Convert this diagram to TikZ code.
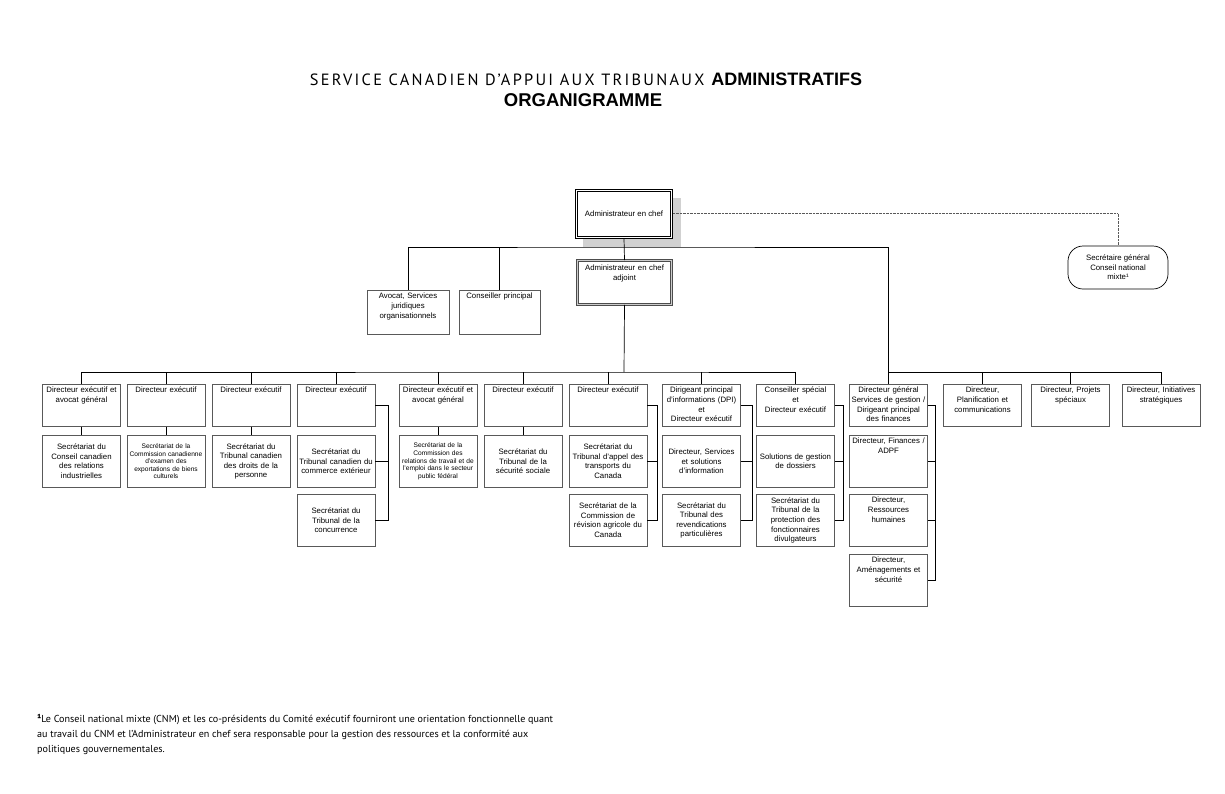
\documentclass[tikz,border=0pt]{standalone}
\usepackage{fontspec}
\setmainfont{Liberation Sans}
\newfontfamily\titlefont[LetterSpace=14]{PT Sans}
\newfontfamily\notefont{PT Sans}
\usetikzlibrary{calc,backgrounds}
\definecolor{boxgray}{gray}{0.35}
\definecolor{shadowgray}{gray}{0.82}
\begin{document}
\begin{tikzpicture}[x=1pt,y=-1pt,
    every node/.style={font=\fontsize{7.8}{9.6}\selectfont,align=center},
    cell/.style={draw=boxgray,line width=0.7pt,text width=77pt,inner xsep=0.5pt,inner ysep=2.5pt,anchor=north},
    headbox/.style={cell,text height=6pt,text depth=31pt},
    subbox/.style={cell,minimum height=52pt},
    tallbox/.style={headbox,text depth=41pt},
    small/.style={font=\fontsize{6.6}{7.6}\selectfont},
    link/.style={line width=0.7pt}]
  \useasboundingbox (0,0) rectangle (1225,793);
  % titre
  \node[anchor=base,font=\fontsize{18}{20}\selectfont] (titre) at (586,85)
    {{\titlefont\fontsize{16.3}{20}\selectfont SERVICE CANADIEN D’APPUI AUX TRIBUNAUX}\hspace{2pt} \textbf{ADMINISTRATIFS}};
  \node[anchor=base,font=\fontsize{18.5}{20}\selectfont] (soustitre) at (583,106) {\textbf{ORGANIGRAMME}};
  % direction
  \node[draw,fill=white,line width=0.7pt,minimum width=97pt,minimum height=49pt] (chef) at (624,213.5) {Administrateur en chef};
  \draw[line width=0.6pt] ($(chef.south west)+(2.2,-2.2)$) rectangle ($(chef.north east)+(-2.2,2.2)$);
  \begin{scope}[on background layer]
    \fill[shadowgray] ($(chef.south west)+(8,9)$) rectangle ($(chef.north east)+(8,9)$);
  \end{scope}
  \node[headbox,text width=93pt,text depth=30pt,inner ysep=4pt,draw=gray!60!black,double=gray!40,
    double distance=1.4pt,line width=0.8pt] (adjoint) at (624.5,260) {Administrateur en chef\\adjoint};
  \node[headbox,text width=81pt,text depth=33pt] (avocat) at (408,290) {Avocat, Services\\juridiques\\organisationnels};
  \node[headbox,text width=80pt,text depth=33pt] (conseiller) at (499.5,290) {Conseiller principal};
  \node[draw,line width=0.7pt,rounded corners=15pt,minimum width=100pt,minimum height=43pt] (sg) at (1118,267.5)
    {Secrétaire général\\Conseil national\\mixte¹};
  % directeurs
  \node[headbox] (d1) at (81.5,384) {Directeur exécutif et\\avocat général};
  \node[headbox] (d2) at (166,384) {Directeur exécutif};
  \node[headbox] (d3) at (251,384) {Directeur exécutif};
  \node[headbox] (d4) at (336,384) {Directeur exécutif};
  \node[headbox] (d5) at (438,384) {Directeur exécutif et\\avocat général};
  \node[headbox] (d6) at (523,384) {Directeur exécutif};
  \node[headbox] (d7) at (608,384) {Directeur exécutif};
  \node[headbox] (d8) at (701.5,384) {Dirigeant principal\\d’informations (DPI)\\et\\Directeur exécutif};
  \node[headbox] (d9) at (795.5,384) {Conseiller spécial\\et\\Directeur exécutif};
  \node[headbox] (dg) at (888.5,384) {Directeur général\\Services de gestion /\\Dirigeant principal\\des finances};
  \node[headbox] (d11) at (982.5,384) {Directeur,\\Planification et\\communications};
  \node[headbox] (d12) at (1070.5,384) {Directeur, Projets\\spéciaux};
  \node[headbox] (d13) at (1161,384) {Directeur, Initiatives\\stratégiques};
  % secretariats
  \node[subbox] (s1) at (81.5,435) {Secrétariat du\\Conseil canadien\\des relations\\industrielles};
  \node[subbox,small] (s2) at (166,435) {Secrétariat de la\\Commission canadienne\\d’examen des\\exportations de biens\\culturels};
  \node[subbox] (s3) at (251,435) {Secrétariat du\\Tribunal canadien\\des droits de la\\personne};
  \node[subbox] (s4a) at (336,435) {Secrétariat du\\Tribunal canadien du\\commerce extérieur};
  \node[subbox] (s4b) at (336,494) {Secrétariat du\\Tribunal de la\\concurrence};
  \node[subbox,small] (s5) at (438,435) {Secrétariat de la\\Commission des\\relations de travail et de\\l’emploi dans le secteur\\public fédéral};
  \node[subbox] (s6) at (523,435) {Secrétariat du\\Tribunal de la\\sécurité sociale};
  \node[subbox] (s7a) at (608,435) {Secrétariat du\\Tribunal d’appel des\\transports du\\Canada};
  \node[subbox] (s7b) at (608,494) {Secrétariat de la\\Commission de\\révision agricole du\\Canada};
  \node[subbox] (s8a) at (701.5,435) {Directeur, Services\\et solutions\\d’information};
  \node[subbox] (s8b) at (701.5,494) {Secrétariat du\\Tribunal des\\revendications\\particulières};
  \node[subbox] (s9a) at (795.5,435) {Solutions de gestion\\de dossiers};
  \node[subbox] (s9b) at (795.5,494) {Secrétariat du\\Tribunal de la\\protection des\\fonctionnaires\\divulgateurs};
  \node[tallbox] (s10a) at (888.5,435) {Directeur, Finances /\\ADPF};
  \node[tallbox] (s10b) at (888.5,494) {Directeur,\\Ressources\\humaines};
  \node[tallbox] (s10c) at (888.5,554) {Directeur,\\Aménagements et\\sécurité};
  % liens
  \coordinate (haut) at (624,247);
  \coordinate (bas) at (624,372);
  \draw[link] (chef.south) -- (adjoint.north);
  \draw[link] (avocat.north) |- (haut) -| (dg.north);
  \draw[link] (conseiller.north) -- (conseiller.north |- haut);
  \draw[link] (adjoint.south) -- (bas);
  \draw[link] (d1.north) |- (bas) -| (d9.north);
  \foreach \n in {d2,d3,d4,d5,d6,d7,d8}
    \draw[link] (\n.north) -- (\n.north |- bas);
  \draw[link] (dg.north |- bas) -| (d13.north);
  \draw[link] (d11.north) -- (d11.north |- bas);
  \draw[link] (d12.north) -- (d12.north |- bas);
  \foreach \n in {1,2,3,5,6}
    \draw[link] (d\n.south) -- (s\n.north);
  \draw[link] (d4.east) -- ++(13,0) coordinate (r4) |- (s4b.east);
  \draw[link] (r4 |- s4a.east) -- (s4a.east);
  \draw[link] (d7.east) -- ++(10,0) coordinate (r7) |- (s7b.east);
  \draw[link] (r7 |- s7a.east) -- (s7a.east);
  \draw[link] (d8.east) -- ++(11,0) coordinate (r8) |- (s8b.east);
  \draw[link] (r8 |- s8a.east) -- (s8a.east);
  \draw[link] (d9.east) -- ++(8,0) coordinate (r9) |- (s9b.east);
  \draw[link] (r9 |- s9a.east) -- (s9a.east);
  \draw[link] (dg.east) -- ++(7,0) coordinate (r10) |- (s10c.east);
  \draw[link] (r10 |- s10a.east) -- (s10a.east);
  \draw[link] (r10 |- s10b.east) -- (s10b.east);
  \draw[gray!70!black,line width=0.6pt,dash pattern=on 0.7pt off 0.7pt] (chef.east) -| (sg.north);
  % note
  \node[anchor=north west,align=left,inner sep=0pt,font=\notefont\fontsize{10.1}{15}\selectfont] (note) at (37,714)
    {\textbf{¹}Le Conseil national mixte (CNM) et les co-présidents du Comité exécutif fourniront une orientation fonctionnelle quant\\
     au travail du CNM et l’Administrateur en chef sera responsable pour la gestion des ressources et la conformité aux\\
     politiques gouvernementales.};
\end{tikzpicture}
\end{document}
